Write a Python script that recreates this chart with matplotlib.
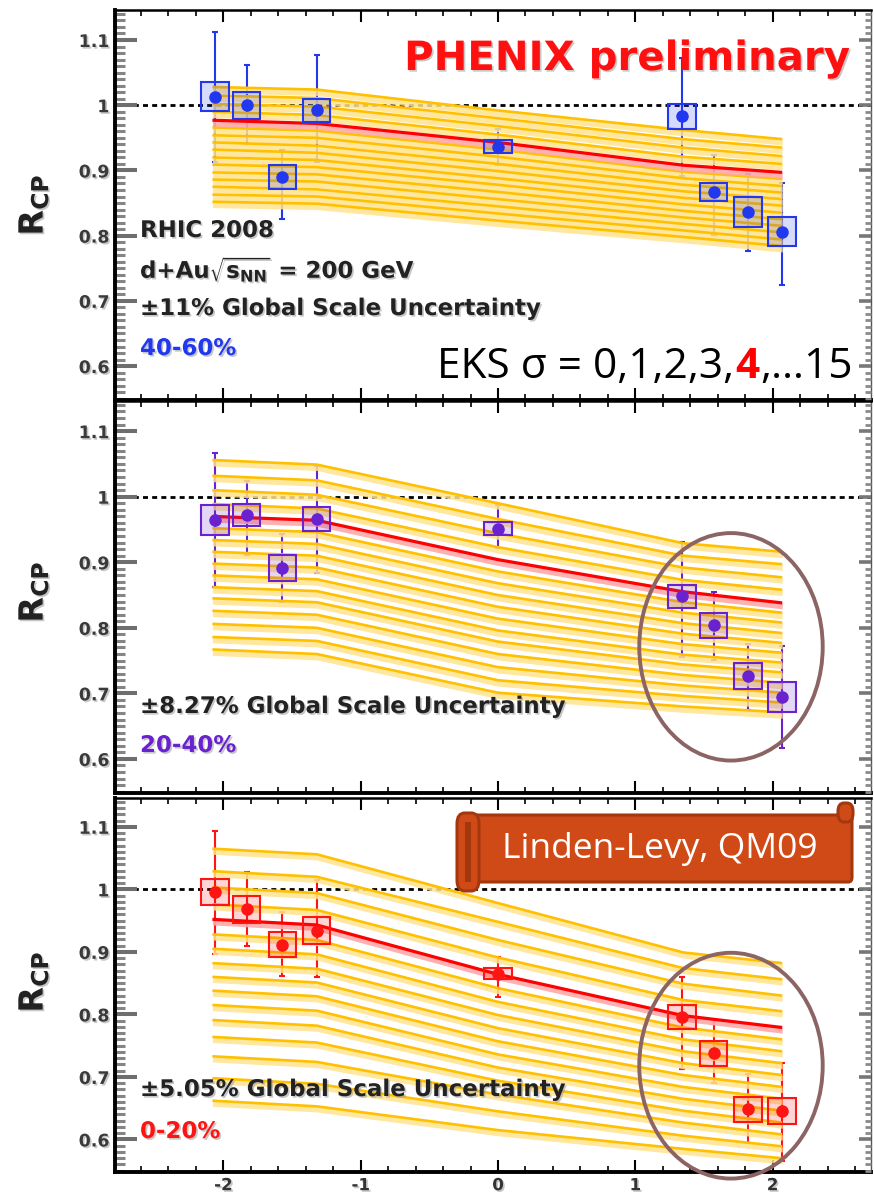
import matplotlib
matplotlib.use("Agg")
import matplotlib.pyplot as plt
import matplotlib.patheffects as pe
from matplotlib.patches import Rectangle, Ellipse, FancyBboxPatch
from matplotlib.ticker import MultipleLocator, FixedLocator, FixedFormatter

plt.rcParams['font.family'] = ['DejaVu Sans']
plt.rcParams['mathtext.fontset'] = 'dejavusans'

# ---------------------------------------------------------------- data
rapidity = [-2.06, -1.83, -1.57, -1.32, 0.0, 1.34, 1.57, 1.82, 2.07]

rcp_4060 = [1.013, 1.000, 0.890, 0.992, 0.936, 0.983, 0.867, 0.836, 0.806]
up_4060 = [0.100, 0.061, 0.042, 0.085, 0.028, 0.089, 0.056, 0.059, 0.074]
dn_4060 = [0.100, 0.060, 0.064, 0.079, 0.028, 0.091, 0.066, 0.059, 0.082]
sys_4060 = [0.022, 0.021, 0.019, 0.018, 0.010, 0.019, 0.014, 0.023, 0.022]

rcp_2040 = [0.964, 0.972, 0.891, 0.966, 0.951, 0.848, 0.804, 0.726, 0.694]
up_2040 = [0.102, 0.052, 0.052, 0.081, 0.036, 0.083, 0.050, 0.049, 0.078]
dn_2040 = [0.101, 0.061, 0.051, 0.082, 0.030, 0.092, 0.053, 0.051, 0.077]
sys_2040 = [0.023, 0.017, 0.020, 0.019, 0.010, 0.018, 0.019, 0.020, 0.023]

rcp_0020 = [0.996, 0.968, 0.911, 0.934, 0.865, 0.796, 0.738, 0.648, 0.645]
up_0020 = [0.098, 0.060, 0.052, 0.081, 0.027, 0.064, 0.053, 0.056, 0.077]
dn_0020 = [0.099, 0.058, 0.049, 0.074, 0.037, 0.084, 0.048, 0.053, 0.079]
sys_0020 = [0.021, 0.022, 0.020, 0.021, 0.009, 0.019, 0.020, 0.020, 0.021]

# EKS nPDF calculations, sigma = 0 ... 15, sampled at these rapidities
eks_x = [-2.08, -1.32, 0.0, 1.35, 2.07]
eks_sel = 4

eks_4060 = [
    [1.028, 1.024, 0.992, 0.962, 0.948],
    [1.015, 1.011, 0.980, 0.948, 0.935],
    [1.002, 0.998, 0.968, 0.935, 0.922],
    [0.990, 0.985, 0.955, 0.921, 0.910],
    [0.977, 0.972, 0.943, 0.908, 0.897],
    [0.966, 0.961, 0.932, 0.898, 0.887],
    [0.954, 0.950, 0.921, 0.888, 0.876],
    [0.943, 0.938, 0.910, 0.878, 0.866],
    [0.932, 0.927, 0.899, 0.868, 0.856],
    [0.920, 0.916, 0.888, 0.858, 0.846],
    [0.909, 0.905, 0.878, 0.848, 0.835],
    [0.897, 0.894, 0.867, 0.838, 0.825],
    [0.886, 0.883, 0.856, 0.828, 0.815],
    [0.875, 0.871, 0.845, 0.818, 0.805],
    [0.863, 0.860, 0.834, 0.808, 0.794],
    [0.852, 0.849, 0.823, 0.798, 0.784],
]

eks_2040 = [
    [1.056, 1.049, 0.990, 0.929, 0.916],
    [1.032, 1.025, 0.966, 0.910, 0.897],
    [1.010, 1.003, 0.944, 0.892, 0.877],
    [0.989, 0.982, 0.923, 0.873, 0.858],
    [0.970, 0.964, 0.904, 0.855, 0.838],
    [0.952, 0.946, 0.886, 0.839, 0.823],
    [0.934, 0.928, 0.868, 0.823, 0.808],
    [0.916, 0.910, 0.850, 0.807, 0.792],
    [0.898, 0.892, 0.832, 0.791, 0.777],
    [0.880, 0.874, 0.814, 0.775, 0.762],
    [0.862, 0.856, 0.796, 0.759, 0.747],
    [0.845, 0.839, 0.779, 0.744, 0.732],
    [0.826, 0.820, 0.760, 0.728, 0.716],
    [0.806, 0.800, 0.740, 0.712, 0.701],
    [0.786, 0.780, 0.720, 0.696, 0.686],
    [0.767, 0.760, 0.701, 0.680, 0.671],
]

eks_0020 = [
    [1.065, 1.056, 0.978, 0.899, 0.882],
    [1.029, 1.020, 0.948, 0.874, 0.856],
    [1.003, 0.994, 0.919, 0.849, 0.830],
    [0.976, 0.967, 0.891, 0.823, 0.805],
    [0.952, 0.943, 0.864, 0.798, 0.779],
    [0.928, 0.919, 0.842, 0.779, 0.760],
    [0.905, 0.896, 0.820, 0.760, 0.741],
    [0.882, 0.873, 0.799, 0.741, 0.722],
    [0.860, 0.851, 0.778, 0.722, 0.703],
    [0.838, 0.829, 0.757, 0.703, 0.684],
    [0.815, 0.806, 0.736, 0.684, 0.665],
    [0.791, 0.782, 0.715, 0.665, 0.646],
    [0.764, 0.755, 0.694, 0.646, 0.627],
    [0.733, 0.724, 0.672, 0.627, 0.608],
    [0.698, 0.689, 0.645, 0.606, 0.589],
    [0.662, 0.653, 0.615, 0.585, 0.570],
]

y_ticks = [0.6, 0.7, 0.8, 0.9, 1.0, 1.1]
y_ticklabels = ['0.6', '0.7', '0.8', '0.9', '1', '1.1']
x_ticks = [-2, -1, 0, 1, 2]
x_ticklabels = ['-2', '-1', '0', '1', '2']

centralities = ['40-60%', '20-40%', '0-20%']
scale_unc = ['\u00b111% Global Scale Uncertainty',
             '\u00b18.27% Global Scale Uncertainty',
             '\u00b15.05% Global Scale Uncertainty']
colors = ['#2238EE', '#6A22D0', '#FF1414']

# ---------------------------------------------------------------- layout
W, H = 874, 1192
fig = plt.figure(figsize=(W / 100, H / 100), dpi=100)


def fx(px):
    return px / W


def fy(py):
    return 1 - py / H


ax_left, ax_right = 115, 871
panel_px = [(10, 400), (401, 793), (798, 1172)]
XLIM = (-2.7895, 2.7167)
YLIM = (0.548, 1.146)

shadow = [pe.withSimplePatchShadow(offset=(1.2, -1.2), shadow_rgbFace='#9a9a9a', alpha=0.55)]

YEL_LINE = '#FFC000'
YEL_BAND = '#FFE38F'
RED_LINE = '#FF0000'
RED_BAND = '#FFA8A8'
BAND_W = 0.009

panels = [
    (rcp_4060, up_4060, dn_4060, sys_4060, eks_4060),
    (rcp_2040, up_2040, dn_2040, sys_2040, eks_2040),
    (rcp_0020, up_0020, dn_0020, sys_0020, eks_0020),
]

axes = []
for k, (top, bot) in enumerate(panel_px):
    ax = fig.add_axes([fx(ax_left), fy(bot), fx(ax_right) - fx(ax_left), (bot - top) / H])
    axes.append(ax)
    ax.set_xlim(*XLIM)
    ax.set_ylim(*YLIM)
    rcp, up, dn, sysu, eks = panels[k]
    col = colors[k]

    # unity reference
    ax.axhline(1.0, color='black', lw=2.0, dashes=(1.8, 1.5), zorder=1)

    # statistical errors
    ax.errorbar(rapidity, rcp, yerr=[dn, up], fmt='none', ecolor=col,
                elinewidth=1.5, capsize=2.5, capthick=1.5, zorder=2)

    # EKS bands
    for i, curve in enumerate(eks):
        if i == eks_sel:
            continue
        lo = [v - BAND_W for v in curve]
        ax.fill_between(eks_x, lo, curve, color=YEL_BAND, lw=0, alpha=0.85, zorder=3)
        ax.plot(eks_x, curve, color=YEL_LINE, lw=1.9, zorder=3.2, solid_capstyle='butt')
    sel = eks[eks_sel]
    ax.fill_between(eks_x, [v - BAND_W for v in sel], sel, color=RED_BAND, lw=0,
                    alpha=0.9, zorder=3.4)
    ax.plot(eks_x, sel, color=RED_LINE, lw=2.3, zorder=3.5, solid_capstyle='butt')

    # systematic boxes
    for xv, yv, s in zip(rapidity, rcp, sysu):
        ax.add_patch(Rectangle((xv - 0.1, yv - s), 0.2, 2 * s, facecolor=col,
                               alpha=0.18, lw=0, zorder=4))
        ax.add_patch(Rectangle((xv - 0.1, yv - s), 0.2, 2 * s, facecolor='none',
                               edgecolor=col, lw=1.5, zorder=4.1))
    ax.plot(rapidity, rcp, 'o', color=col, ms=8, mec=col, zorder=5)

    # axes styling
    for side in ('left', 'bottom'):
        ax.spines[side].set_linewidth(2.8)
    ax.spines['top'].set_linewidth(1.8)
    ax.spines['right'].set_linewidth(1.0)
    ax.spines['right'].set_color('#555555')

    ax.xaxis.set_major_locator(FixedLocator(x_ticks))
    ax.xaxis.set_major_formatter(FixedFormatter(x_ticklabels))
    ax.xaxis.set_minor_locator(MultipleLocator(0.2))
    ax.tick_params(axis='x', which='both', direction='in', top=True, bottom=True,
                   color='black')
    ax.tick_params(axis='x', which='major', length=8.5, width=1.5, labelsize=12,
                   pad=3, labelcolor='#333333', labelbottom=(k == 2))
    ax.tick_params(axis='x', which='minor', length=4.3, width=1.2)

    ax.yaxis.set_major_locator(FixedLocator(y_ticks))
    ax.yaxis.set_major_formatter(FixedFormatter(y_ticklabels))
    ax.yaxis.set_minor_locator(MultipleLocator(0.01))
    ax.tick_params(axis='y', which='both', direction='in', left=True, right=False)
    ax.tick_params(axis='y', which='major', length=16, width=2.9, color='#6e6e6e',
                   labelsize=12.5, pad=4, labelcolor='#3a3a3a')
    ax.tick_params(axis='y', which='minor', length=7, width=2.2, color='#858585')
    for lab in ax.get_yticklabels() + ax.get_xticklabels():
        lab.set_fontweight('bold')
        lab.set_path_effects(shadow)

    axr = ax.twinx()
    axr.set_ylim(*YLIM)
    for sp in axr.spines.values():
        sp.set_visible(False)
    axr.yaxis.set_major_locator(FixedLocator(y_ticks))
    axr.yaxis.set_minor_locator(MultipleLocator(0.01))
    axr.tick_params(axis='y', which='both', direction='in', labelright=False)
    axr.tick_params(axis='y', which='major', length=9, width=2.6, color='#777777')
    axr.tick_params(axis='y', which='minor', length=4, width=2.0, color='#8a8a8a')

    # y label
    yc = [205, 592, 982][k]
    fig.text(fx(33), fy(yc), r'$\mathbf{R}_{\mathbf{CP}}$', rotation=90, fontsize=24,
             ha='center', va='center', color='#222222', path_effects=shadow)

# ---------------------------------------------------------------- annotations
txt_kw = dict(fontsize=16.5, fontweight='bold', ha='left', va='baseline',
              path_effects=shadow)

fig.text(fx(850), fy(70), 'PHENIX preliminary', color='#FF1010', fontsize=29,
         fontweight='bold', ha='right', va='baseline', path_effects=shadow)
fig.text(fx(140), fy(237), 'RHIC 2008', color='#222222', **txt_kw)
fig.text(fx(140), fy(278), r'd+Au$\sqrt{\mathbf{s}_{\mathbf{NN}}}$ = 200 GeV',
         color='#222222', **txt_kw)

scale_y = [315, 713, 1096]
cent_y = [355, 752, 1138]
for k in range(3):
    fig.text(fx(140), fy(scale_y[k]), scale_unc[k], color='#222222', **txt_kw)
    fig.text(fx(140), fy(cent_y[k]), centralities[k], color=colors[k], **txt_kw)

# EKS sigma legend line
renderer = fig.canvas.get_renderer()
xpos = 437
for s, c, w in [('EKS \u03c3 = 0,1,2,3,', 'black', 'normal'),
                ('4', '#FF0000', 'bold'),
                (',\u202615', 'black', 'normal')]:
    t = fig.text(fx(xpos), fy(378), s, color=c, fontweight=w, fontsize=30.5,
                 family=['Open Sans', 'DejaVu Sans'], ha='left', va='baseline', zorder=10)
    xpos += t.get_window_extent(renderer).width + 1

# highlighted regions
for k, (yc, hh) in [(1, (0.771, 0.347)), (2, (0.718, 0.361))]:
    axes[k].add_patch(Ellipse((1.697, yc), 1.336, hh, facecolor='none',
                              edgecolor='#8C6464', lw=2.8, zorder=8, clip_on=False))

# scroll banner
BANNER = '#D04A18'
BANNER_EDGE = '#A3380F'
fig.add_artist(FancyBboxPatch((fx(470), fy(882)), fx(852) - fx(470), (882 - 815) / H,
                              boxstyle='round,pad=0,rounding_size=0.004',
                              transform=fig.transFigure, facecolor=BANNER,
                              edgecolor=BANNER_EDGE, lw=2.2, zorder=9))
fig.add_artist(FancyBboxPatch((fx(838), fy(822)), fx(853) - fx(838), (822 - 803) / H,
                              boxstyle='round,pad=0,rounding_size=0.007',
                              transform=fig.transFigure, facecolor=BANNER,
                              edgecolor=BANNER_EDGE, lw=2.2, zorder=9.1))
fig.add_artist(FancyBboxPatch((fx(457), fy(891)), fx(479) - fx(457), (891 - 813) / H,
                              boxstyle='round,pad=0,rounding_size=0.009',
                              transform=fig.transFigure, facecolor=BANNER,
                              edgecolor=BANNER_EDGE, lw=2.2, zorder=9.2))
fig.add_artist(Rectangle((fx(465), fy(882)), fx(471) - fx(465), (882 - 822) / H,
                         transform=fig.transFigure, facecolor=BANNER_EDGE,
                         lw=0, zorder=9.3))
fig.text(fx(660), fy(858), 'Linden-Levy, QM09', color='white', fontsize=25.5,
         family=['Open Sans', 'DejaVu Sans'], ha='center', va='baseline', zorder=10)

fig.savefig('out.png', dpi=100)
